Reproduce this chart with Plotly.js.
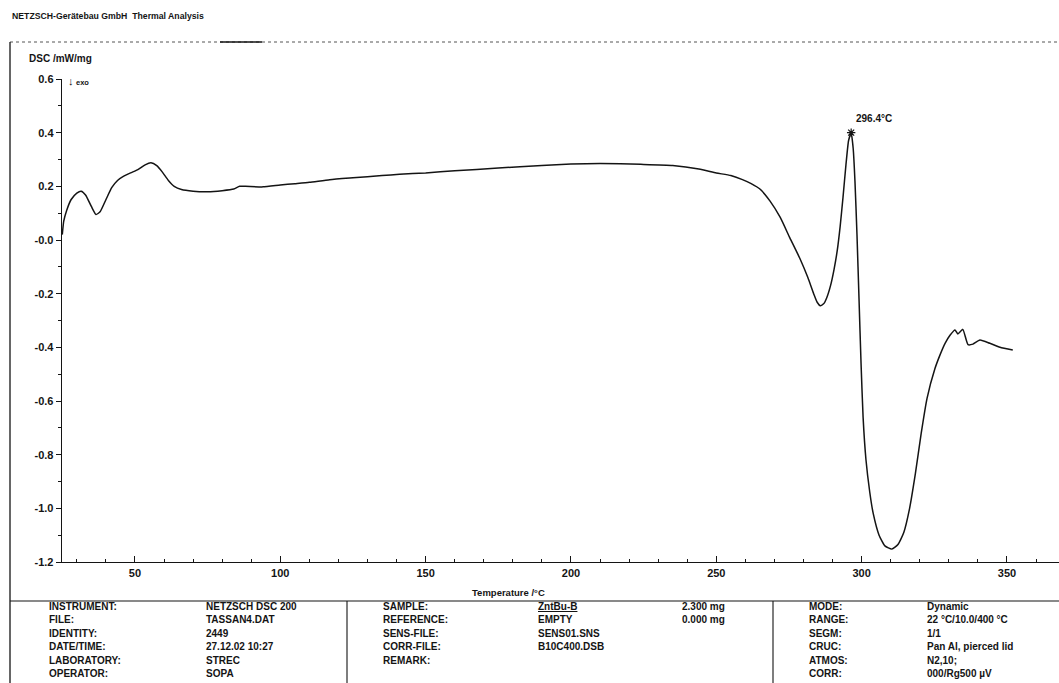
<!DOCTYPE html>
<html>
<head>
<meta charset="utf-8">
<script src="https://cdn.plot.ly/plotly-3.0.1.min.js"></script>
<style>
  html, body { margin: 0; padding: 0; background: #ffffff; }
  #chart { width: 1059px; height: 683px; }
</style>
</head>
<body>
<div id="chart"></div>
<script>
// DSC heating scan, ZntBu-B sample (NETZSCH DSC 200)
const temperature = [25.0, 25.5, 26.5, 28, 30, 31.5, 33, 35, 36.6, 38, 40, 42, 44, 46, 48.5, 51, 53.5, 55.5, 57.5, 59.5,
  61.5, 63.5, 66, 70, 75, 80, 84, 86, 88, 94, 100, 105, 110, 117, 125, 135, 141, 150, 160, 175,
  190, 200, 210, 224, 235, 244, 250, 255, 259, 262, 265, 268.5, 272, 275.3, 278.8, 281.5, 283.5, 284.7, 285.8, 286.9,
  288, 289.3, 290.5, 291.6, 292.6, 293.6, 294.6, 295.5, 296.4, 297.1, 297.7, 298.4, 299.1, 299.8, 300.5, 301.5, 302.8, 304, 306, 308,
  310.4, 312.5, 314.5, 316.5, 318.5, 320.5, 322.5, 325.2, 326.9, 328.7, 330.4, 332.1, 333.1, 334.8, 336.6, 338.3, 340.7, 344.1, 347.6, 352.0];
const dsc = [0.02, 0.07, 0.11, 0.15, 0.175, 0.182, 0.168, 0.125, 0.095, 0.105, 0.15, 0.195, 0.222, 0.237, 0.25, 0.262, 0.28, 0.288, 0.277, 0.252,
  0.222, 0.2, 0.188, 0.182, 0.18, 0.184, 0.19, 0.2, 0.2, 0.198, 0.205, 0.21, 0.215, 0.225, 0.232, 0.24, 0.245, 0.25, 0.258, 0.268,
  0.278, 0.283, 0.285, 0.282, 0.278, 0.265, 0.25, 0.24, 0.225, 0.21, 0.19, 0.145, 0.084, 0.008, -0.07, -0.14, -0.2, -0.232, -0.245, -0.238,
  -0.215, -0.17, -0.11, -0.04, 0.05, 0.16, 0.28, 0.37, 0.40, 0.34, 0.22, 0.02, -0.22, -0.46, -0.66, -0.82, -0.94, -1.02, -1.10, -1.14,
  -1.152, -1.135, -1.09, -1.0, -0.87, -0.72, -0.59, -0.48, -0.43, -0.385, -0.355, -0.335, -0.35, -0.333, -0.39, -0.388, -0.373, -0.385, -0.4, -0.41];

const peakTemp = [296.4];
const peakDsc = [0.40];
const peakLabel = '296.4°C';

const xTickVals = [50, 100, 150, 200, 250, 300, 350];
const yTickVals = [-1.2, -1.0, -0.8, -0.6, -0.4, -0.2, 0.0, 0.2, 0.4, 0.6];
const yTickText = ['-1.2', '-1.0', '-0.8', '-0.6', '-0.4', '-0.2', '-0.0', '0.2', '0.4', '0.6'];

// instrument / measurement block printed under the plot
const infoLabels1 = ['INSTRUMENT:', 'FILE:', 'IDENTITY:', 'DATE/TIME:', 'LABORATORY:', 'OPERATOR:'];
const infoValues1 = ['NETZSCH DSC 200', 'TASSAN4.DAT', '2449', '27.12.02 10:27', 'STREC', 'SOPA'];
const infoLabels2 = ['SAMPLE:', 'REFERENCE:', 'SENS-FILE:', 'CORR-FILE:', 'REMARK:'];
const infoValues2 = ['<u>ZntBu-B</u>', 'EMPTY', 'SENS01.SNS', 'B10C400.DSB', ''];
const infoMasses2 = ['2.300 mg', '0.000 mg'];
const infoLabels3 = ['MODE:', 'RANGE:', 'SEGM:', 'CRUC:', 'ATMOS:', 'CORR:'];
const infoValues3 = ['Dynamic', '22 °C/10.0/400 °C', '1/1', 'Pan Al, pierced lid', 'N2,10;', '000/Rg500 µV'];

// page geometry (pixels) and conversion to paper coordinates
const W = 1059, H = 683;
const M = { l: 62, r: 0, t: 79, b: 121 };
const plotW = W - M.l - M.r, plotH = H - M.t - M.b;
const px = x => (x - M.l) / plotW;
const py = y => (H - M.b - y) / plotH;

const ink = '#141414';
const FONT = 'Liberation Sans, Arial, sans-serif';
const boldFont = (size) => ({ family: FONT, size: size, color: ink, weight: 700 });

const annotations = [];
function addText(x, y, text, size, anchor) {
  annotations.push({
    xref: 'paper', yref: 'paper', x: px(x), y: py(y), text: text,
    showarrow: false, xanchor: anchor || 'left', yanchor: 'middle',
    font: boldFont(size || 10)
  });
}

addText(10, 16, 'NETZSCH-Gerätebau GmbH  Thermal Analysis', 8.7);
addText(27, 58, 'DSC /mW/mg', 10);
addText(66, 81, '↓', 11);
addText(74, 82, 'exo', 7.5);
addText(508, 592, 'Temperature /°C', 9.5, 'center');

// peak marker label
annotations.push({
  xref: 'x', yref: 'y', x: peakTemp[0], y: peakDsc[0], text: peakLabel,
  showarrow: false, xanchor: 'left', yanchor: 'bottom', xshift: 3, yshift: 7,
  font: boldFont(10)
});

const rowY = [606, 619.5, 633, 646.5, 660, 673.5];
infoLabels1.forEach((t, i) => { addText(47, rowY[i], t, 10); addText(204, rowY[i], infoValues1[i], 10); });
infoLabels2.forEach((t, i) => { addText(381, rowY[i], t, 10); if (infoValues2[i]) addText(536, rowY[i], infoValues2[i], 10); });
infoMasses2.forEach((t, i) => addText(680, rowY[i], t, 10));
infoLabels3.forEach((t, i) => { addText(807, rowY[i], t, 10); addText(925, rowY[i], infoValues3[i], 10); });

const lineSeg = (x0, y0, x1, y1, width, dash, color) => ({
  type: 'line', xref: 'paper', yref: 'paper',
  x0: px(x0), y0: py(y0), x1: px(x1), y1: py(y1),
  line: { color: color || ink, width: width, dash: dash || 'solid' }
});

const shapes = [
  lineSeg(10, 42, W, 42, 1, 'dot', '#555'),
  lineSeg(220, 42, 262, 42, 1.6),
  lineSeg(10, 42, 10, H, 1.3),
  lineSeg(10, 601, W, 601, 1.1),
  lineSeg(347, 601, 347, H, 1.1),
  lineSeg(773, 601, 773, H, 1.1)
];

const traces = [
  {
    x: temperature, y: dsc, type: 'scatter', mode: 'lines',
    line: { color: ink, width: 1.5, shape: 'spline', smoothing: 0.5 },
    hoverinfo: 'x+y'
  },
  {
    x: peakTemp, y: peakDsc, type: 'scatter', mode: 'markers',
    marker: { symbol: 'asterisk-open', size: 7, color: ink, line: { color: ink, width: 1.2 } },
    hoverinfo: 'x+y'
  }
];

const layout = {
  width: W, height: H,
  margin: M,
  paper_bgcolor: '#ffffff', plot_bgcolor: '#ffffff',
  showlegend: false,
  font: boldFont(10),
  xaxis: {
    range: [24.9, 367.9], showgrid: false, zeroline: false,
    showline: true, linecolor: ink, linewidth: 1.3,
    tickmode: 'array', tickvals: xTickVals,
    ticks: 'inside', ticklen: 6, tickwidth: 1, tickcolor: ink,
    minor: { tickmode: 'linear', tick0: 0, dtick: 10, ticks: 'inside', ticklen: 3, tickcolor: ink, showgrid: false },
    tickfont: boldFont(11)
  },
  yaxis: {
    range: [-1.2, 0.6], showgrid: false, zeroline: false,
    showline: true, linecolor: ink, linewidth: 1.3,
    tickmode: 'array', tickvals: yTickVals, ticktext: yTickText,
    ticks: 'outside', ticklen: 5, tickwidth: 1, tickcolor: ink,
    minor: { tickmode: 'linear', tick0: 0, dtick: 0.1, ticks: 'outside', ticklen: 3, tickcolor: ink, showgrid: false },
    tickfont: boldFont(11)
  },
  annotations: annotations,
  shapes: shapes
};

Plotly.newPlot('chart', traces, layout, { staticPlot: true, displayModeBar: false });
</script>
</body>
</html>
